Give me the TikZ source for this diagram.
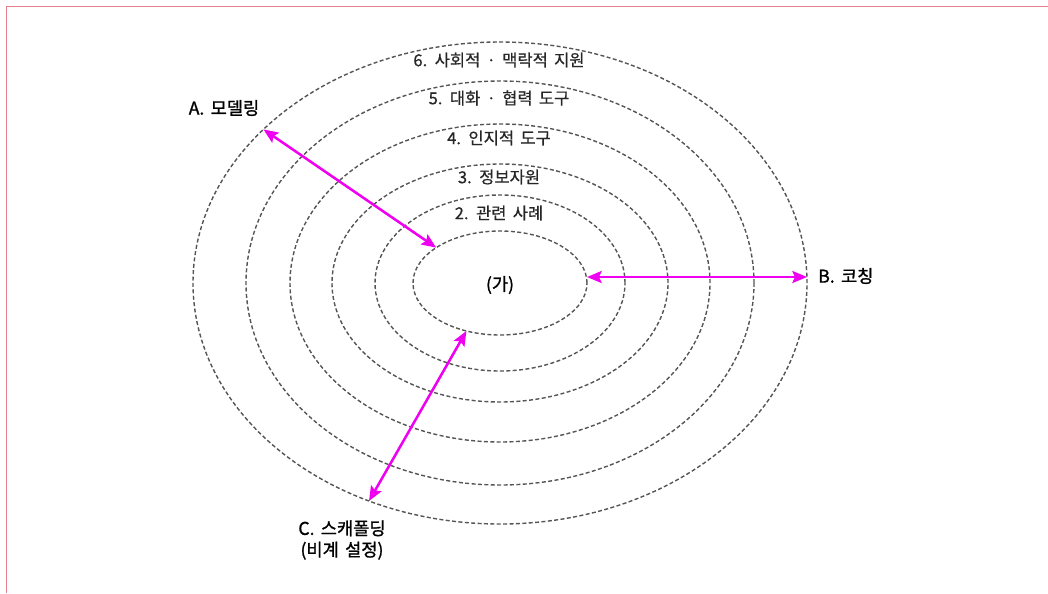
\documentclass[tikz,border=0pt]{standalone}
\usepackage{fontspec}
\setmainfont{Noto Sans CJK KR}
\newfontfamily\ringfont{Noto Sans CJK KR}[FakeBold=0.6,WordSpace=1.7]
\newfontfamily\bigfont{Noto Sans CJK KR}[FakeBold=1.2,WordSpace=1.6]
\usetikzlibrary{shapes.geometric,arrows.meta}
\definecolor{ringgray}{HTML}{555555}
\definecolor{mag}{HTML}{F000F0}
\definecolor{framecol}{HTML}{E8808F}
\begin{document}
\begin{tikzpicture}[x=0.75pt,y=-0.75pt,
  ring/.style={ellipse, draw=ringgray, line width=1.05pt, dash pattern=on 3pt off 1.8pt,
    inner sep=0pt, outer sep=0pt},
  ringlabel/.style={font=\ringfont\fontsize{12.4pt}{14pt}\selectfont, text=black!85, inner sep=0pt},
  biglabel/.style={font=\bigfont\fontsize{13.2pt}{16pt}\selectfont, text=black, inner sep=0pt, align=center},
  arr/.style={draw=mag, line width=1.9pt, {Stealth[length=11pt,width=9pt,inset=2pt]}-{Stealth[length=11pt,width=9pt,inset=2pt]}}
]
\useasboundingbox (0,0) rectangle (1048,593);
\draw[framecol, line width=1.4pt] (6.5,593) -- (6.5,6.5) -- (1048,6.5);

\coordinate (c) at (500,283);
\node[ring, minimum width=614*0.75pt, minimum height=482*0.75pt] (e6) at (c) {};
\node[ring, minimum width=508*0.75pt, minimum height=404*0.75pt] (e5) at (c) {};
\node[ring, minimum width=420*0.75pt, minimum height=318*0.75pt] (e4) at (c) {};
\node[ring, minimum width=336*0.75pt, minimum height=238*0.75pt] (e3) at (c) {};
\node[ring, minimum width=250*0.75pt, minimum height=176*0.75pt] (e2) at (c) {};
\node[ring, minimum width=174*0.75pt, minimum height=104*0.75pt] (e1) at (c) {};

\node[ringlabel] (l6) at (499,60) {6. 사회적 · 맥락적 지원};
\node[ringlabel] (l5) at (499,98) {5. 대화 · 협력 도구};
\node[ringlabel] (l4) at (499,138) {4. 인지적 도구};
\node[ringlabel] (l3) at (499,177) {3. 정보자원};
\node[ringlabel] (l2) at (499,213) {2. 관련 사례};

\node[biglabel] (ga) at (500,285) {(가)};
\node[biglabel] (la) at (224,108) {A. 모델링};
\node[biglabel, anchor=west] (lb) at (818,276) {B. 코칭};
\node[biglabel] (lc) at (342,540) {C. 스캐폴딩\\(비계 설정)};

\draw[arr] (e6.147.7) -- (e1.151.5);
\draw[arr] ([yshift=4.5pt]e1.east) -- ([yshift=4.5pt]e6.east);
\draw[arr] (e1.235.6) -- (e6.239.1);
\end{tikzpicture}
\end{document}
